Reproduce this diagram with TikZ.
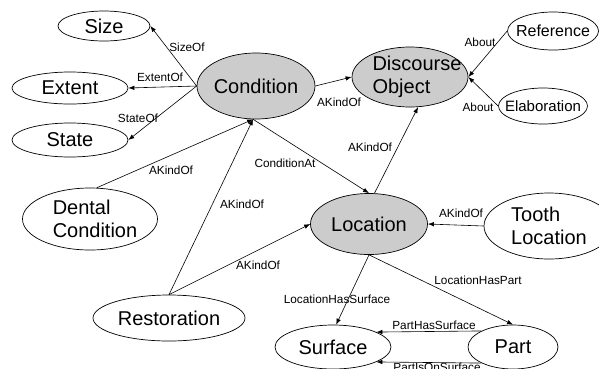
\documentclass[tikz,border=0pt]{standalone}
\usepackage{fontspec}
\setmainfont{Liberation Sans}
\usetikzlibrary{shapes.geometric,arrows.meta}

\tikzset{
	concept/.style 2 args={ellipse, draw, line width=0.7pt, inner sep=0pt, minimum width=#1pt, minimum height=#2pt},
	core/.style={fill=gray!40},
	word/.style={font=\fontsize{20}{23}\selectfont, align=left, inner sep=0pt},
	rel/.style={font=\fontsize{11.8}{13}\selectfont, inner sep=0pt},
	link/.style={-{Latex[length=6pt,width=4.5pt]}, line width=0.6pt},
}

\begin{document}
\begin{tikzpicture}[x=1pt, y=-1pt]
			\useasboundingbox (0,0) rectangle (599,368);

			\node[concept={92}{30}, label={[word]center:Size}](size) at (104,26){};
			\node[concept={116}{32}, label={[word]center:Extent}](extent) at (70,88){};
			\node[concept={116}{34}, label={[word]center:State}](state) at (70,140){};
			\node[concept={118}{66}, core, label={[word]center:Condition}](cond) at (256,86){};

			\node[concept={116}{60}, core, label={[word, xshift=7pt]center:Discourse\\Object}](disc) at (410,77){};
			\node[concept={91}{38}, label={[word, font=\fontsize{16}{19}\selectfont]center:Reference}](ref) at (553,31){};
			\node[concept={89}{36}, label={[word, font=\fontsize{15}{18}\selectfont]center:Elaboration}](elab) at (543,106){};

			\node[concept={135}{62}, label={[word, xshift=5pt]center:Dental\\Condition}](dent) at (90,219){};
			\node[concept={152}{46}, label={[word]center:Restoration}](rest) at (169,318){};
			\node[concept={117}{61}, core, label={[word]center:Location}](loc) at (369,224){};
			\node[concept={130}{66}, label={[word]center:Tooth\\Location}](tooth) at (549,226){};
			\node[concept={116}{44}, label={[word]center:Surface}](surf) at (333,347){};
			\node[concept={90}{44}, label={[word]center:Part}](part) at (513,347){};

			\draw[link] (cond.west) -- (size.east);
			\draw[link] (cond.west) -- (extent.east);
			\draw[link] (cond.west) -- (state.east);
			\draw[link] (dent.78) -- (cond.265);
			\draw[link] (rest.north) -- (cond.265);
			\draw[link] (rest.north) -- (loc.west);
			\draw[link] (cond.265) -- (loc.north);
			\draw[link] (cond.east) -- (disc.west);
			\draw[link] (loc.80) -- (disc.285);
			\draw[link] (ref.west) -- (disc.east);
			\draw[link] (elab.west) -- (disc.east);
			\draw[link] (tooth.west) -- (loc.east);
			\draw[link] (loc.south) -- (surf.82);
			\draw[link] (loc.south) -- (part.north);
			\draw[link] (part.153) -- (surf.19);
			\draw[link] (part.207) -- (surf.341);

			\node[rel](l-sizeof) at (187,47){SizeOf};
			\node[rel](l-extentof) at (160,77){ExtentOf};
			\node[rel](l-stateof) at (138,118){StateOf};
			\node[rel](l-dentkind) at (171,170){AKindOf};
			\node[rel](l-restkind) at (242,204){AKindOf};
			\node[rel](l-restloc) at (258,265){AKindOf};
			\node[rel](l-condat) at (285,163){ConditionAt};
			\node[rel](l-conddisc) at (339,102){AKindOf};
			\node[rel](l-locdisc) at (370,147){AKindOf};
			\node[rel](l-refabout) at (480,42){About};
			\node[rel](l-elababout) at (478,107){About};
			\node[rel](l-toothkind) at (461,213){AKindOf};
			\node[rel](l-hassurf) at (337,299){LocationHasSurface};
			\node[rel](l-haspart) at (478,280){LocationHasPart};
			\node[rel](l-parthas) at (434,325){PartHasSurface};
			\node[rel](l-partis) at (437,367){PartIsOnSurface};
		\end{tikzpicture}
\end{document}
